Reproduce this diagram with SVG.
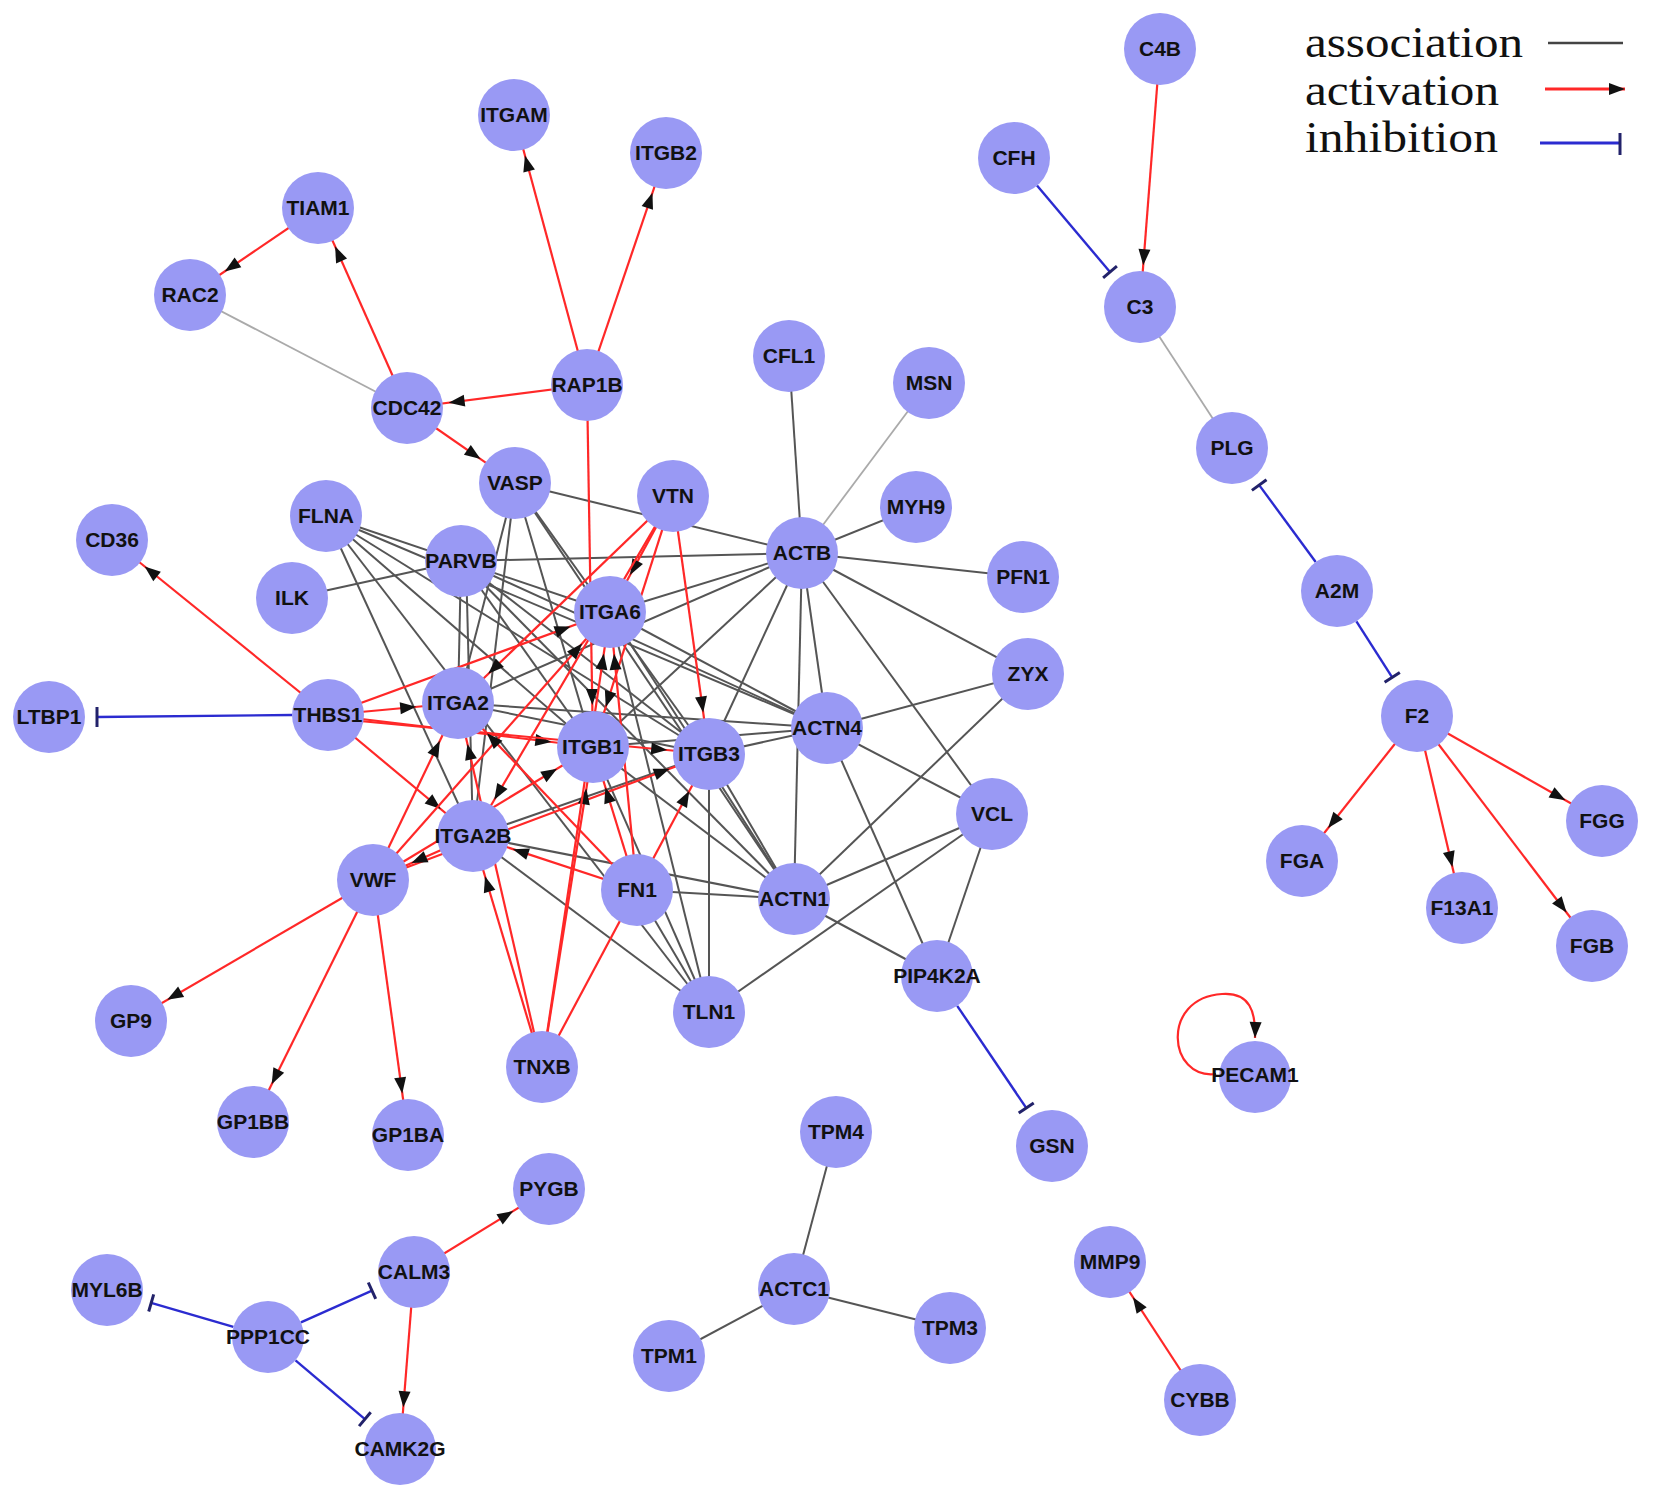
<svg xmlns="http://www.w3.org/2000/svg" width="1654" height="1501" viewBox="0 0 1654 1501">
<defs>
<style>
.n circle{fill:#9999f4}
.n text{font-family:"Liberation Sans",Arial,sans-serif;font-weight:bold;font-size:21px;text-anchor:middle;fill:#111}
.a{stroke:#555;stroke-width:2}
.al{stroke:#aaa;stroke-width:1.8}
.r{stroke:#ff2828;stroke-width:2.2;marker-end:url(#arr)}
.b{stroke:#2b2bd0;stroke-width:2.4}
.bar{stroke:#22226a;stroke-width:3}
.lg{font-family:"Liberation Serif","Times New Roman",serif;font-size:44px;fill:#111}
</style>
<marker id="arr" markerUnits="userSpaceOnUse" markerWidth="16" markerHeight="12" refX="58" refY="6" orient="auto" overflow="visible"><path d="M0,0 L16,6 L0,12 z" fill="#111"/></marker>
<marker id="tip" markerUnits="userSpaceOnUse" markerWidth="16" markerHeight="12" refX="16" refY="6" orient="auto" overflow="visible"><path d="M0,0 L16,6 L0,12 z" fill="#111"/></marker>
</defs>
<rect width="1654" height="1501" fill="#fff"/>
<g id="connectors" fill="none">
<line class="al" x1="190" y1="295" x2="407" y2="408"/>
<line class="al" x1="1140" y1="307" x2="1232" y2="448"/>
<line class="al" x1="929" y1="383" x2="802" y2="553"/>
<line class="a" x1="789" y1="356" x2="802" y2="553"/>
<line class="a" x1="916" y1="507" x2="802" y2="553"/>
<line class="a" x1="1023" y1="577" x2="802" y2="553"/>
<line class="a" x1="1028" y1="674" x2="802" y2="553"/>
<line class="a" x1="992" y1="814" x2="802" y2="553"/>
<line class="a" x1="827" y1="728" x2="802" y2="553"/>
<line class="a" x1="794" y1="899" x2="802" y2="553"/>
<line class="a" x1="709" y1="754" x2="802" y2="553"/>
<line class="a" x1="593" y1="747" x2="802" y2="553"/>
<line class="a" x1="610" y1="612" x2="802" y2="553"/>
<line class="a" x1="458" y1="703" x2="802" y2="553"/>
<line class="a" x1="515" y1="483" x2="802" y2="553"/>
<line class="a" x1="461" y1="561" x2="802" y2="553"/>
<line class="a" x1="292" y1="598" x2="461" y2="561"/>
<line class="a" x1="1028" y1="674" x2="827" y2="728"/>
<line class="a" x1="992" y1="814" x2="827" y2="728"/>
<line class="a" x1="937" y1="976" x2="827" y2="728"/>
<line class="a" x1="1028" y1="674" x2="794" y2="899"/>
<line class="a" x1="992" y1="814" x2="794" y2="899"/>
<line class="a" x1="937" y1="976" x2="794" y2="899"/>
<line class="a" x1="992" y1="814" x2="937" y2="976"/>
<line class="a" x1="992" y1="814" x2="709" y2="1012"/>
<line class="a" x1="709" y1="754" x2="827" y2="728"/>
<line class="a" x1="593" y1="747" x2="827" y2="728"/>
<line class="a" x1="458" y1="703" x2="827" y2="728"/>
<line class="a" x1="610" y1="612" x2="827" y2="728"/>
<line class="a" x1="709" y1="754" x2="794" y2="899"/>
<line class="a" x1="593" y1="747" x2="794" y2="899"/>
<line class="a" x1="610" y1="612" x2="794" y2="899"/>
<line class="a" x1="473" y1="836" x2="794" y2="899"/>
<line class="a" x1="637" y1="890" x2="794" y2="899"/>
<line class="a" x1="709" y1="754" x2="709" y2="1012"/>
<line class="a" x1="593" y1="747" x2="709" y2="1012"/>
<line class="a" x1="610" y1="612" x2="709" y2="1012"/>
<line class="a" x1="473" y1="836" x2="709" y2="1012"/>
<line class="a" x1="637" y1="890" x2="709" y2="1012"/>
<line class="a" x1="326" y1="516" x2="610" y2="612"/>
<line class="a" x1="326" y1="516" x2="593" y2="747"/>
<line class="a" x1="326" y1="516" x2="709" y2="754"/>
<line class="a" x1="326" y1="516" x2="827" y2="728"/>
<line class="a" x1="326" y1="516" x2="473" y2="836"/>
<line class="a" x1="326" y1="516" x2="709" y2="1012"/>
<line class="a" x1="515" y1="483" x2="458" y2="703"/>
<line class="a" x1="515" y1="483" x2="473" y2="836"/>
<line class="a" x1="515" y1="483" x2="593" y2="747"/>
<line class="a" x1="515" y1="483" x2="709" y2="754"/>
<line class="a" x1="515" y1="483" x2="794" y2="899"/>
<line class="a" x1="461" y1="561" x2="458" y2="703"/>
<line class="a" x1="466" y1="561" x2="473" y2="836"/>
<line class="a" x1="461" y1="561" x2="593" y2="747"/>
<line class="a" x1="461" y1="561" x2="709" y2="754"/>
<line class="a" x1="461" y1="561" x2="827" y2="728"/>
<line class="a" x1="461" y1="561" x2="794" y2="899"/>
<line class="a" x1="458" y1="703" x2="709" y2="754"/>
<line class="a" x1="473" y1="836" x2="709" y2="754"/>
<line class="a" x1="836" y1="1132" x2="794" y2="1289"/>
<line class="a" x1="794" y1="1289" x2="669" y2="1356"/>
<line class="a" x1="794" y1="1289" x2="950" y2="1328"/>

<line class="r" x1="1160" y1="49" x2="1140" y2="307"/>
<line class="r" x1="1417" y1="716" x2="1302" y2="861"/>
<line class="r" x1="1417" y1="716" x2="1462" y2="908"/>
<line class="r" x1="1417" y1="716" x2="1592" y2="946"/>
<line class="r" x1="1417" y1="716" x2="1602" y2="821"/>
<line class="r" x1="1200" y1="1400" x2="1110" y2="1262"/>
<line class="r" x1="414" y1="1272" x2="549" y2="1189"/>
<line class="r" x1="414" y1="1272" x2="400" y2="1449"/>
<line class="r" x1="373" y1="880" x2="131" y2="1021"/>
<line class="r" x1="373" y1="880" x2="253" y2="1122"/>
<line class="r" x1="373" y1="880" x2="408" y2="1135"/>
<line class="r" x1="328" y1="715" x2="112" y2="540"/>
<line class="r" x1="587" y1="385" x2="514" y2="115"/>
<line class="r" x1="587" y1="385" x2="666" y2="153"/>
<line class="r" x1="587" y1="385" x2="407" y2="408"/>
<line class="r" x1="587" y1="385" x2="593" y2="747"/>
<line class="r" x1="407" y1="408" x2="318" y2="208"/>
<line class="r" x1="407" y1="408" x2="515" y2="483"/>
<line class="r" x1="318" y1="208" x2="190" y2="295"/>
<line class="r" x1="328" y1="715" x2="458" y2="703"/>
<line class="r" x1="328" y1="715" x2="593" y2="747"/>
<line class="r" x1="328" y1="718" x2="709" y2="754"/>
<line class="r" x1="328" y1="715" x2="473" y2="836"/>
<line class="r" x1="328" y1="715" x2="610" y2="612"/>
<line class="r" x1="673" y1="496" x2="610" y2="612"/>
<line class="r" x1="673" y1="496" x2="458" y2="703"/>
<line class="r" x1="673" y1="496" x2="473" y2="836"/>
<line class="r" x1="673" y1="496" x2="593" y2="747"/>
<line class="r" x1="673" y1="496" x2="709" y2="754"/>
<line class="r" x1="373" y1="880" x2="458" y2="703"/>
<line class="r" x1="373" y1="880" x2="610" y2="612"/>
<line class="r" x1="373" y1="880" x2="593" y2="747"/>
<line class="r" x1="373" y1="880" x2="709" y2="754"/>
<line class="r" x1="473" y1="836" x2="373" y2="880"/>
<line class="r" x1="542" y1="1067" x2="458" y2="703"/>
<line class="r" x1="542" y1="1067" x2="473" y2="836"/>
<line class="r" x1="542" y1="1067" x2="593" y2="747"/>
<line class="r" x1="542" y1="1067" x2="610" y2="612"/>
<line class="r" x1="542" y1="1067" x2="709" y2="754"/>
<line class="r" x1="637" y1="890" x2="458" y2="703"/>
<line class="r" x1="637" y1="890" x2="473" y2="836"/>
<line class="r" x1="637" y1="890" x2="593" y2="747"/>
<line class="r" x1="637" y1="890" x2="610" y2="612"/>
<path d="M1216,1074 C1168,1080 1160,998 1222,994 C1250,992 1256,1012 1255,1038" stroke="#ff2828" stroke-width="2.2" marker-end="url(#tip)"/>

<line class="b" x1="1037" y1="185.5" x2="1110" y2="272"/>
<line class="bar" x1="1103.1" y1="277.8" x2="1116.9" y2="266.2"/>
<line class="b" x1="1315.7" y1="562" x2="1259.2" y2="485.1"/>
<line class="bar" x1="1251.9" y1="490.4" x2="1266.5" y2="479.8"/>
<line class="b" x1="1356.4" y1="621.3" x2="1392.2" y2="677.3"/>
<line class="bar" x1="1384.6" y1="682.2" x2="1399.8" y2="672.4"/>
<line class="b" x1="292" y1="715" x2="97" y2="717"/>
<line class="bar" x1="97" y1="707" x2="97" y2="727"/>
<line class="b" x1="957.2" y1="1005.8" x2="1026.2" y2="1107.9"/>
<line class="bar" x1="1018.7" y1="1112.9" x2="1033.7" y2="1102.9"/>
<line class="b" x1="233.4" y1="1326.9" x2="151.2" y2="1302.9"/>
<line class="bar" x1="148.7" y1="1311.5" x2="153.7" y2="1294.3"/>
<line class="b" x1="300.9" y1="1322.3" x2="372" y2="1290.7"/>
<line class="bar" x1="368.3" y1="1282.5" x2="375.7" y2="1298.9"/>
<line class="b" x1="295.5" y1="1360.3" x2="364.9" y2="1419.2"/>
<line class="bar" x1="359.1" y1="1426.1" x2="370.7" y2="1412.3"/>
</g>
<g id="nodes" class="n">
<g id="n-C4B"><circle cx="1160" cy="49" r="36"/><text x="1160" y="56">C4B</text></g>
<g id="n-CFH"><circle cx="1014" cy="158" r="36"/><text x="1014" y="165">CFH</text></g>
<g id="n-C3"><circle cx="1140" cy="307" r="36"/><text x="1140" y="314">C3</text></g>
<g id="n-PLG"><circle cx="1232" cy="448" r="36"/><text x="1232" y="455">PLG</text></g>
<g id="n-A2M"><circle cx="1337" cy="591" r="36"/><text x="1337" y="598">A2M</text></g>
<g id="n-F2"><circle cx="1417" cy="716" r="36"/><text x="1417" y="723">F2</text></g>
<g id="n-FGA"><circle cx="1302" cy="861" r="36"/><text x="1302" y="868">FGA</text></g>
<g id="n-F13A1"><circle cx="1462" cy="908" r="36"/><text x="1462" y="915">F13A1</text></g>
<g id="n-FGB"><circle cx="1592" cy="946" r="36"/><text x="1592" y="953">FGB</text></g>
<g id="n-FGG"><circle cx="1602" cy="821" r="36"/><text x="1602" y="828">FGG</text></g>
<g id="n-PECAM1"><circle cx="1255" cy="1077" r="36"/><text x="1255" y="1082">PECAM1</text></g>
<g id="n-MMP9"><circle cx="1110" cy="1262" r="36"/><text x="1110" y="1269">MMP9</text></g>
<g id="n-CYBB"><circle cx="1200" cy="1400" r="36"/><text x="1200" y="1407">CYBB</text></g>
<g id="n-GSN"><circle cx="1052" cy="1146" r="36"/><text x="1052" y="1153">GSN</text></g>
<g id="n-PIP4K2A"><circle cx="937" cy="976" r="36"/><text x="937" y="983">PIP4K2A</text></g>
<g id="n-TPM4"><circle cx="836" cy="1132" r="36"/><text x="836" y="1139">TPM4</text></g>
<g id="n-ACTC1"><circle cx="794" cy="1289" r="36"/><text x="794" y="1296">ACTC1</text></g>
<g id="n-TPM1"><circle cx="669" cy="1356" r="36"/><text x="669" y="1363">TPM1</text></g>
<g id="n-TPM3"><circle cx="950" cy="1328" r="36"/><text x="950" y="1335">TPM3</text></g>
<g id="n-PYGB"><circle cx="549" cy="1189" r="36"/><text x="549" y="1196">PYGB</text></g>
<g id="n-CALM3"><circle cx="414" cy="1272" r="36"/><text x="414" y="1279">CALM3</text></g>
<g id="n-MYL6B"><circle cx="107" cy="1290" r="36"/><text x="107" y="1297">MYL6B</text></g>
<g id="n-PPP1CC"><circle cx="268" cy="1337" r="36"/><text x="268" y="1344">PPP1CC</text></g>
<g id="n-CAMK2G"><circle cx="400" cy="1449" r="36"/><text x="400" y="1456">CAMK2G</text></g>
<g id="n-GP9"><circle cx="131" cy="1021" r="36"/><text x="131" y="1028">GP9</text></g>
<g id="n-GP1BB"><circle cx="253" cy="1122" r="36"/><text x="253" y="1129">GP1BB</text></g>
<g id="n-GP1BA"><circle cx="408" cy="1135" r="36"/><text x="408" y="1142">GP1BA</text></g>
<g id="n-TNXB"><circle cx="542" cy="1067" r="36"/><text x="542" y="1074">TNXB</text></g>
<g id="n-TLN1"><circle cx="709" cy="1012" r="36"/><text x="709" y="1019">TLN1</text></g>
<g id="n-FN1"><circle cx="637" cy="890" r="36"/><text x="637" y="897">FN1</text></g>
<g id="n-ACTN1"><circle cx="794" cy="899" r="36"/><text x="794" y="906">ACTN1</text></g>
<g id="n-VCL"><circle cx="992" cy="814" r="36"/><text x="992" y="821">VCL</text></g>
<g id="n-ZYX"><circle cx="1028" cy="674" r="36"/><text x="1028" y="681">ZYX</text></g>
<g id="n-ACTN4"><circle cx="827" cy="728" r="36"/><text x="827" y="735">ACTN4</text></g>
<g id="n-ITGB3"><circle cx="709" cy="754" r="36"/><text x="709" y="761">ITGB3</text></g>
<g id="n-ITGB1"><circle cx="593" cy="747" r="36"/><text x="593" y="754">ITGB1</text></g>
<g id="n-ITGA2"><circle cx="458" cy="703" r="36"/><text x="458" y="710">ITGA2</text></g>
<g id="n-ITGA2B"><circle cx="473" cy="836" r="36"/><text x="473" y="843">ITGA2B</text></g>
<g id="n-VWF"><circle cx="373" cy="880" r="36"/><text x="373" y="887">VWF</text></g>
<g id="n-THBS1"><circle cx="328" cy="715" r="36"/><text x="328" y="722">THBS1</text></g>
<g id="n-LTBP1"><circle cx="49" cy="717" r="36"/><text x="49" y="724">LTBP1</text></g>
<g id="n-CD36"><circle cx="112" cy="540" r="36"/><text x="112" y="547">CD36</text></g>
<g id="n-ILK"><circle cx="292" cy="598" r="36"/><text x="292" y="605">ILK</text></g>
<g id="n-FLNA"><circle cx="326" cy="516" r="36"/><text x="326" y="523">FLNA</text></g>
<g id="n-PARVB"><circle cx="461" cy="561" r="36"/><text x="461" y="568">PARVB</text></g>
<g id="n-ITGA6"><circle cx="610" cy="612" r="36"/><text x="610" y="619">ITGA6</text></g>
<g id="n-VASP"><circle cx="515" cy="483" r="36"/><text x="515" y="490">VASP</text></g>
<g id="n-VTN"><circle cx="673" cy="496" r="36"/><text x="673" y="503">VTN</text></g>
<g id="n-ACTB"><circle cx="802" cy="553" r="36"/><text x="802" y="560">ACTB</text></g>
<g id="n-PFN1"><circle cx="1023" cy="577" r="36"/><text x="1023" y="584">PFN1</text></g>
<g id="n-MYH9"><circle cx="916" cy="507" r="36"/><text x="916" y="514">MYH9</text></g>
<g id="n-MSN"><circle cx="929" cy="383" r="36"/><text x="929" y="390">MSN</text></g>
<g id="n-CFL1"><circle cx="789" cy="356" r="36"/><text x="789" y="363">CFL1</text></g>
<g id="n-RAP1B"><circle cx="587" cy="385" r="36"/><text x="587" y="392">RAP1B</text></g>
<g id="n-CDC42"><circle cx="407" cy="408" r="36"/><text x="407" y="415">CDC42</text></g>
<g id="n-RAC2"><circle cx="190" cy="295" r="36"/><text x="190" y="302">RAC2</text></g>
<g id="n-TIAM1"><circle cx="318" cy="208" r="36"/><text x="318" y="215">TIAM1</text></g>
<g id="n-ITGAM"><circle cx="514" cy="115" r="36"/><text x="514" y="122">ITGAM</text></g>
<g id="n-ITGB2"><circle cx="666" cy="153" r="36"/><text x="666" y="160">ITGB2</text></g>
</g>
<g id="legend">
<text class="lg" x="1305" y="57" textLength="218" lengthAdjust="spacingAndGlyphs">association</text>
<text class="lg" x="1305" y="105" textLength="194" lengthAdjust="spacingAndGlyphs">activation</text>
<text class="lg" x="1305" y="152" textLength="193" lengthAdjust="spacingAndGlyphs">inhibition</text>
<line x1="1548" y1="43" x2="1623" y2="43" stroke="#444" stroke-width="2.5"/>
<line x1="1545" y1="89" x2="1625" y2="89" stroke="#ff2828" stroke-width="3" marker-end="url(#tip)"/>
<line x1="1540" y1="143" x2="1620" y2="143" stroke="#2b2bd0" stroke-width="3"/>
<line x1="1620" y1="133" x2="1620" y2="155" stroke="#22226a" stroke-width="3"/>
</g>
</svg>
